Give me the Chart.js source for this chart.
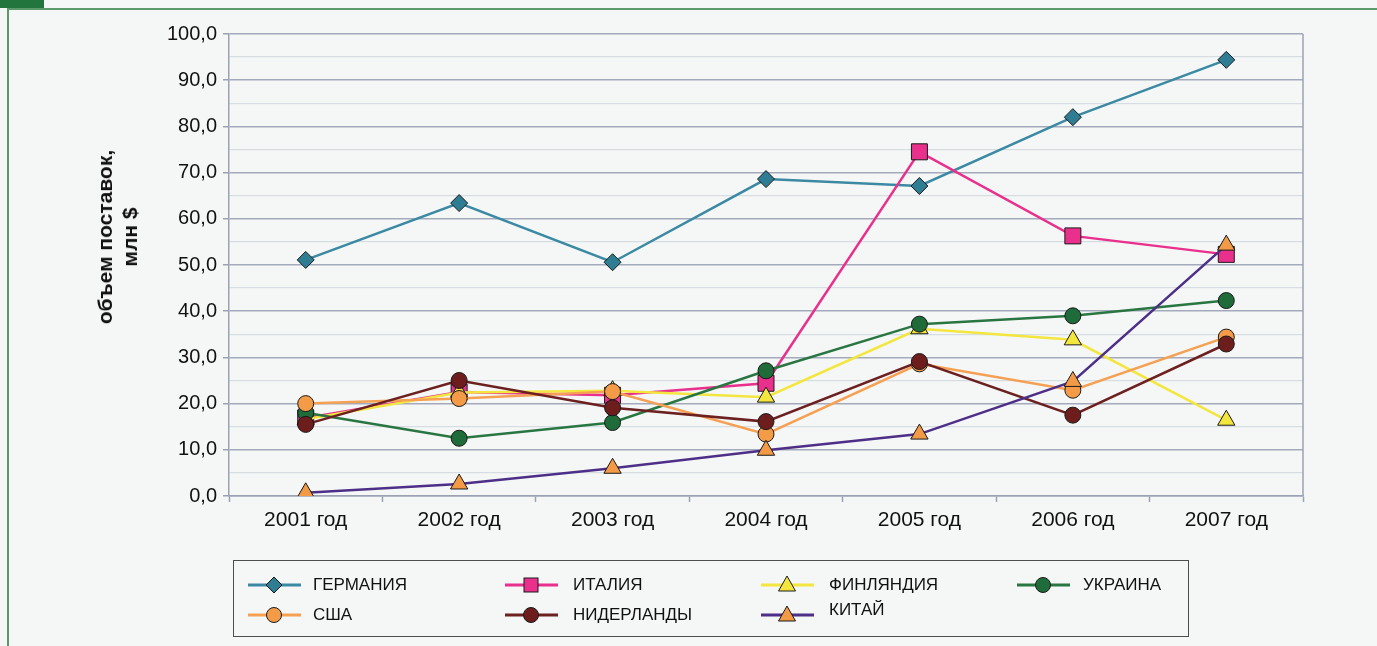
<!DOCTYPE html>
<html>
<head>
<meta charset="utf-8">
<script src="https://cdn.jsdelivr.net/npm/chart.js@4.4.1/dist/chart.umd.min.js"></script>
<style>
html,body{margin:0;padding:0;background:#f5f7f7;}
body{width:1377px;height:646px;position:relative;overflow:hidden;font-family:"Liberation Sans",Arial,sans-serif;color:#111;}
#greenBox{position:absolute;left:0;top:0;width:44px;height:8px;background:#22753c;}
#frameTop{position:absolute;left:7px;top:8px;width:1370px;height:2px;background:#5d9a6a;}
#frameLeft{position:absolute;left:7px;top:8px;width:2px;height:638px;background:#5d9a6a;}
#chart{position:absolute;left:0;top:0;}
#ytitle{position:absolute;left:117px;top:237px;transform:translate(-50%,-50%) rotate(-90deg);font-weight:bold;font-size:21px;line-height:25px;text-align:center;white-space:nowrap;}
#legendBox{position:absolute;left:233px;top:560px;width:956px;height:77px;border:1px solid #4d4d4d;box-sizing:border-box;}
.lgsym{position:absolute;width:56px;height:22px;}
.lgtxt{position:absolute;font-size:17px;line-height:20px;white-space:nowrap;}
</style>
</head>
<body>
<div id="greenBox"></div>
<div id="frameTop"></div>
<div id="frameLeft"></div>
<canvas id="chart" width="1377" height="646"></canvas>
<div id="ytitle">объем поставок,<br>млн $</div>
<div id="legendBox"></div>
<script>
// ---- data ----
const categories = ['2001 год','2002 год','2003 год','2004 год','2005 год','2006 год','2007 год'];
const yTickLabels = ['0,0','10,0','20,0','30,0','40,0','50,0','60,0','70,0','80,0','90,0','100,0'];
const seriesNames = ['ГЕРМАНИЯ','ИТАЛИЯ','ФИНЛЯНДИЯ','УКРАИНА','США','НИДЕРЛАНДЫ','КИТАЙ'];
const germany     = [51.1, 63.4, 50.6, 68.6, 67.1, 82.0, 94.4];
const italy       = [16.9, 22.5, 21.8, 24.4, 74.5, 56.3, 52.3];
const finland     = [16.6, 22.4, 22.8, 21.4, 36.2, 33.8, 16.4];
const ukraine     = [18.0, 12.5, 15.9, 27.1, 37.2, 39.0, 42.3];
const usa         = [20.0, 21.1, 22.6, 13.4, 28.6, 22.9, 34.4];
const netherlands = [15.5, 25.0, 19.1, 16.1, 29.1, 17.5, 32.9];
const china       = [0.7, 2.6, 6.0, 9.9, 13.4, 24.8, 54.3];

// ---- styles ----
const styles = [
  {line:'#3b89a2', fill:'#2e7d93', shape:'rectRot', r:8.5},
  {line:'#e8308c', fill:'#e8308c', shape:'rect', r:11.3},
  {line:'#f3e63e', fill:'#f3e63e', shape:'triangle', r:10},
  {line:'#2a7642', fill:'#1f6b39', shape:'circle', r:8},
  {line:'#f5a052', fill:'#f49b48', shape:'circle', r:8},
  {line:'#6c2020', fill:'#6e1d1d', shape:'circle', r:8},
  {line:'#4d2f88', fill:'#f29a45', shape:'triangle', r:10}
];
const seriesData = [germany, italy, finland, ukraine, usa, netherlands, china];

const datasets = seriesData.map((d, i) => ({
  label: seriesNames[i],
  data: d,
  borderColor: styles[i].line,
  backgroundColor: styles[i].fill,
  borderWidth: 2.5,
  tension: 0,
  pointStyle: styles[i].shape,
  pointRadius: styles[i].r,
  pointHoverRadius: styles[i].r,
  pointBackgroundColor: styles[i].fill,
  pointBorderColor: '#1a1a1a',
  pointBorderWidth: 1,
  order: seriesData.length - 1 - i
}));

const rightBorder = {
  id: 'rightBorder',
  afterDraw(chart) {
    const {ctx, chartArea} = chart;
    ctx.save();
    ctx.strokeStyle = '#9aa2b3';
    ctx.lineWidth = 1.5;
    ctx.beginPath();
    ctx.moveTo(chartArea.right, chartArea.top);
    ctx.lineTo(chartArea.right, chartArea.bottom);
    ctx.stroke();
    ctx.restore();
  }
};

new Chart(document.getElementById('chart'), {
  type: 'line',
  data: { labels: categories, datasets },
  plugins: [rightBorder],
  options: {
    responsive: false,
    animation: false,
    events: [],
    layout: { padding: { left: 0, top: 34, right: 74, bottom: 0 } },
    plugins: { legend: { display: false }, tooltip: { enabled: false } },
    scales: {
      x: {
        offset: true,
        afterFit(scale) { scale.height = 150; },
        grid: { offset: true, drawOnChartArea: false, drawTicks: true, tickLength: 6, tickColor: '#9aa2b3', tickWidth: 1.5 },
        border: { color: '#9aa2b3', width: 1.5 },
        ticks: { color: '#111', padding: 6, maxRotation: 0, font: { family: '"Liberation Sans", Arial, sans-serif', size: 21 } }
      },
      y: {
        min: 0, max: 100,
        afterFit(scale) { scale.width = 229; },
        grid: {
          color: c => (c.tick && c.tick.value % 10 === 0) ? '#a3aabb' : '#d6dee3',
          lineWidth: c => (c.tick && c.tick.value % 10 === 0) ? 1.5 : 1.3,
          tickColor: c => (c.tick && c.tick.value % 10 === 0) ? '#9aa2b3' : 'rgba(0,0,0,0)',
          tickLength: 6,
          tickWidth: 1.5
        },
        border: { color: '#9aa2b3', width: 1.5 },
        ticks: {
          stepSize: 5,
          autoSkip: false,
          color: '#111',
          padding: 6,
          font: { family: '"Liberation Sans", Arial, sans-serif', size: 20 },
          callback: v => (v % 10 === 0) ? yTickLabels[v / 10] : ''
        }
      }
    }
  }
});

// ---- HTML legend (4 columns x 2 rows) ----
const colSym = [248, 505, 761, 1017];
const colTxt = [313, 573, 829, 1083];
const rowY = [585, 615];
function markerSvg(s) {
  const cx = 26, cy = 11;
  let m = '';
  if (s.shape === 'circle') m = `<circle cx="${cx}" cy="${cy}" r="7.5" fill="${s.fill}" stroke="#1a1a1a" stroke-width="1"/>`;
  else if (s.shape === 'rect') m = `<rect x="${cx-7}" y="${cy-7}" width="14" height="14" fill="${s.fill}" stroke="#1a1a1a" stroke-width="1"/>`;
  else if (s.shape === 'rectRot') m = `<polygon points="${cx},${cy-8} ${cx+8},${cy} ${cx},${cy+8} ${cx-8},${cy}" fill="${s.fill}" stroke="#1a1a1a" stroke-width="1"/>`;
  else m = `<polygon points="${cx},${cy-9} ${cx+8.5},${cy+6} ${cx-8.5},${cy+6}" fill="${s.fill}" stroke="#1a1a1a" stroke-width="1"/>`;
  return `<svg width="56" height="22" xmlns="http://www.w3.org/2000/svg"><line x1="0" y1="${cy}" x2="53" y2="${cy}" stroke="${s.line}" stroke-width="3"/>${m}</svg>`;
}
seriesNames.forEach((name, i) => {
  const col = i % 4, row = Math.floor(i / 4);
  const y = rowY[row];
  const sym = document.createElement('div');
  sym.className = 'lgsym';
  sym.style.left = colSym[col] + 'px';
  sym.style.top = (y - 11) + 'px';
  sym.innerHTML = markerSvg(styles[i]);
  document.body.appendChild(sym);
  const t = document.createElement('div');
  t.className = 'lgtxt';
  t.style.left = colTxt[col] + 'px';
  t.style.top = (y - 10 - (name === 'КИТАЙ' ? 5 : 0)) + 'px';
  t.textContent = name;
  document.body.appendChild(t);
});
</script>
</body>
</html>
